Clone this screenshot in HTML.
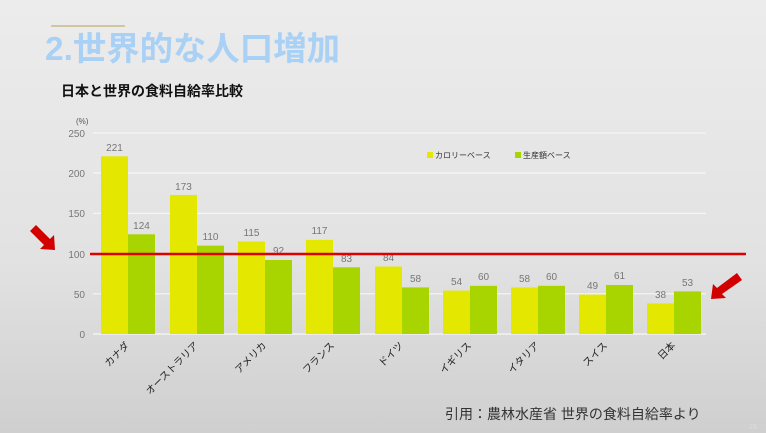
<!DOCTYPE html><html><head><meta charset="utf-8"><style>
html,body{margin:0;padding:0;width:766px;height:433px;overflow:hidden}
body{background:linear-gradient(#ececec,#e2e2e2 60%,#cfcfd0);font-family:"Liberation Sans","Noto Sans CJK JP",sans-serif}
</style></head><body>
<svg width="766" height="433" xmlns="http://www.w3.org/2000/svg" style="position:absolute;left:0;top:0;font-family:'Liberation Sans','Noto Sans CJK JP',sans-serif">
<line x1="51" y1="26" x2="125" y2="26" stroke="#c8b98a" stroke-width="1.5"/>
<text x="45" y="60" font-size="33" font-weight="bold" fill="#a9d0f5" textLength="295" lengthAdjust="spacingAndGlyphs">2.世界的な人口増加</text>
<text x="61" y="96" font-size="14" font-weight="bold" fill="#111">日本と世界の食料自給率比較</text>
<text x="76" y="124" font-size="8" fill="#555">(%)</text>
<g stroke="#f6f6f6" stroke-width="1.2">
<line x1="93" y1="133" x2="706" y2="133"/><line x1="93" y1="173" x2="706" y2="173"/><line x1="93" y1="213.4" x2="706" y2="213.4"/><line x1="93" y1="253.6" x2="706" y2="253.6"/><line x1="93" y1="293.8" x2="706" y2="293.8"/><line x1="93" y1="334" x2="706" y2="334"/></g>
<g font-size="10" fill="#777" text-anchor="end">
<text x="85" y="137">250</text><text x="85" y="177">200</text><text x="85" y="217">150</text><text x="85" y="258">100</text><text x="85" y="298">50</text><text x="85" y="338">0</text></g>
<rect x="427" y="152" width="6" height="6" fill="#e4e800"/><text x="435" y="158" font-size="8" fill="#333">カロリーベース</text>
<rect x="515" y="152" width="6" height="6" fill="#a8d400"/><text x="523" y="158" font-size="8" fill="#333">生産額ベース</text>
<g fill="#e4e800">
<rect x="101" y="156.3" width="27" height="177.7"/><rect x="170" y="194.9" width="27" height="139.1"/><rect x="238" y="241.5" width="27" height="92.5"/><rect x="306" y="239.9" width="27" height="94.1"/><rect x="375" y="266.5" width="27" height="67.5"/><rect x="443" y="290.6" width="27" height="43.4"/><rect x="511" y="287.4" width="27" height="46.6"/><rect x="579" y="294.6" width="27" height="39.4"/><rect x="647" y="303.4" width="27" height="30.6"/></g>
<g fill="#a8d400">
<rect x="128" y="234.3" width="27" height="99.7"/><rect x="197" y="245.6" width="27" height="88.4"/><rect x="265" y="260" width="27" height="74"/><rect x="333" y="267.3" width="27" height="66.7"/><rect x="402" y="287.4" width="27" height="46.6"/><rect x="470" y="285.8" width="27" height="48.2"/><rect x="538" y="285.8" width="27" height="48.2"/><rect x="606" y="285" width="27" height="49"/><rect x="674" y="291.4" width="27" height="42.6"/></g>
<g font-size="10" fill="#777" text-anchor="middle">
<text x="114.5" y="151">221</text><text x="141.5" y="229">124</text>
<text x="183.5" y="190">173</text><text x="210.5" y="240">110</text>
<text x="251.5" y="236">115</text><text x="278.5" y="254">92</text>
<text x="319.5" y="234">117</text><text x="346.5" y="262">83</text>
<text x="388.5" y="261">84</text><text x="415.5" y="282">58</text>
<text x="456.5" y="285">54</text><text x="483.5" y="280">60</text>
<text x="524.5" y="282">58</text><text x="551.5" y="280">60</text>
<text x="592.5" y="289">49</text><text x="619.5" y="279">61</text>
<text x="660.5" y="298">38</text><text x="687.5" y="286">53</text></g>
<g font-size="10" fill="#222" text-anchor="end">
<text transform="translate(130,346) rotate(-45)">カナダ</text>
<text transform="translate(199,346) rotate(-45)">オーストラリア</text>
<text transform="translate(267,346) rotate(-45)">アメリカ</text>
<text transform="translate(335,346) rotate(-45)">フランス</text>
<text transform="translate(404,346) rotate(-45)">ドイツ</text>
<text transform="translate(472,346) rotate(-45)">イギリス</text>
<text transform="translate(540,346) rotate(-45)">イタリア</text>
<text transform="translate(608,346) rotate(-45)">スイス</text>
<text transform="translate(676,346) rotate(-45)">日本</text></g>
<line x1="90" y1="254" x2="746" y2="254" stroke="#d00" stroke-width="2.5"/>
<polygon points="55,250 54,235 50,239 36,225 30,231 44,245 40,249" fill="#d30000"/>
<polygon points="711,299 726,298 722,294 742,280 737,273 717,288 713,284" fill="#d30000"/>
<text x="445" y="419" font-size="14" fill="#333">引用：農林水産省 世界の食料自給率より</text>
<text x="749" y="429" font-size="7" fill="#ddd">15</text>
</svg></body></html>
